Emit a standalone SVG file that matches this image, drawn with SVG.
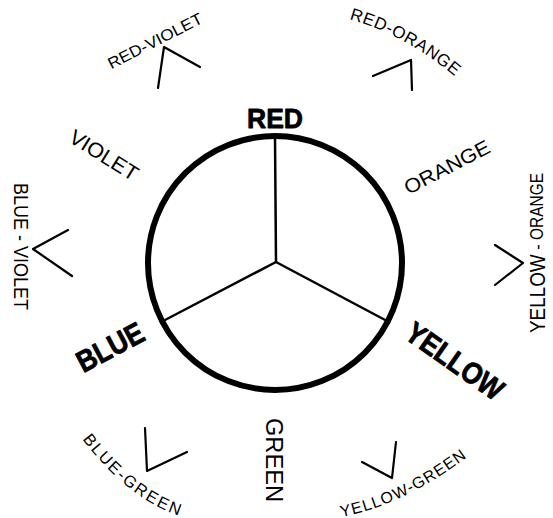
<svg xmlns="http://www.w3.org/2000/svg" width="553" height="518" viewBox="0 0 553 518">
<style>
text{font-family:"Liberation Sans","DejaVu Sans",sans-serif;fill:#000;dominant-baseline:central;text-anchor:middle}
.p{font-weight:bold;stroke:#000;stroke-width:0.8;stroke-linejoin:round}
.caret{fill:none;stroke:#000;stroke-width:2.2;stroke-linecap:round;stroke-linejoin:round}
.spoke{fill:none;stroke:#000;stroke-width:2.5;stroke-linecap:round}
</style>
<defs>
<path id="pRO" d="M350,13 Q410,30 460,73"/>
<path id="pBG" d="M86,434 Q132,495 184,511"/>
<path id="pYG" d="M340,511 Q400,500 464,452"/>
</defs>
<rect width="553" height="518" fill="#fff"/>
<g id="wheel">
<circle cx="275" cy="263" r="127" fill="none" stroke="#000" stroke-width="6"/>
<line class="spoke" x1="276" y1="262" x2="275" y2="137"/>
<line class="spoke" x1="276" y1="262" x2="165" y2="320"/>
<line class="spoke" x1="276" y1="262" x2="387" y2="321"/>
</g>
<g id="connectors">
<polyline class="caret" points="158,88 164,47 200,67"/>
<polyline class="caret" points="373,76 411,60 412,90"/>
<polyline class="caret" points="495,245 523,263 495,285"/>
<polyline class="caret" points="68,230 33,249 72,276"/>
<polyline class="caret" points="145,428 147,471 187,452"/>
<polyline class="caret" points="362,462 392,478 396,442"/>
</g>
<g id="red"><text class="p" x="275" y="118" font-size="28" textLength="56" lengthAdjust="spacingAndGlyphs">RED</text></g>
<g id="blue"><text class="p" transform="translate(110,347) rotate(-28)" font-size="30" textLength="72" lengthAdjust="spacingAndGlyphs">BLUE</text></g>
<g id="yellow"><text class="p" transform="translate(455,361) rotate(35)" font-size="30" textLength="112" lengthAdjust="spacingAndGlyphs">YELLOW</text></g>
<g id="orange"><text transform="translate(447,167) rotate(-27.5)" font-size="20" textLength="94" lengthAdjust="spacingAndGlyphs">ORANGE</text></g>
<g id="violet"><text transform="translate(104,155) rotate(32)" font-size="21" textLength="77" lengthAdjust="spacingAndGlyphs">VIOLET</text></g>
<g id="green"><text transform="translate(274,460) rotate(90)" font-size="23" textLength="84" lengthAdjust="spacingAndGlyphs">GREEN</text></g>
<g id="red-violet"><text transform="translate(155,41) rotate(-27)" font-size="16" textLength="104" lengthAdjust="spacingAndGlyphs">RED-VIOLET</text></g>
<g id="red-orange"><text font-size="17" letter-spacing="0.9"><textPath href="#pRO" startOffset="50%">RED-ORANGE</textPath></text></g>
<g id="yellow-orange"><text transform="translate(537,253) rotate(-90)" textLength="160" lengthAdjust="spacingAndGlyphs"><tspan font-size="22">YELLOW</tspan><tspan font-size="19"> - </tspan><tspan font-size="18">ORANGE</tspan></text></g>
<g id="blue-violet"><text transform="translate(21.5,246.5) rotate(90)" font-size="21" textLength="127" lengthAdjust="spacingAndGlyphs">BLUE - VIOLET</text></g>
<g id="blue-green"><text font-size="16.5" letter-spacing="1.6"><textPath href="#pBG" startOffset="50%">BLUE-GREEN</textPath></text></g>
<g id="yellow-green"><text font-size="16" letter-spacing="0.8"><textPath href="#pYG" startOffset="50%">YELLOW-GREEN</textPath></text></g>
</svg>
